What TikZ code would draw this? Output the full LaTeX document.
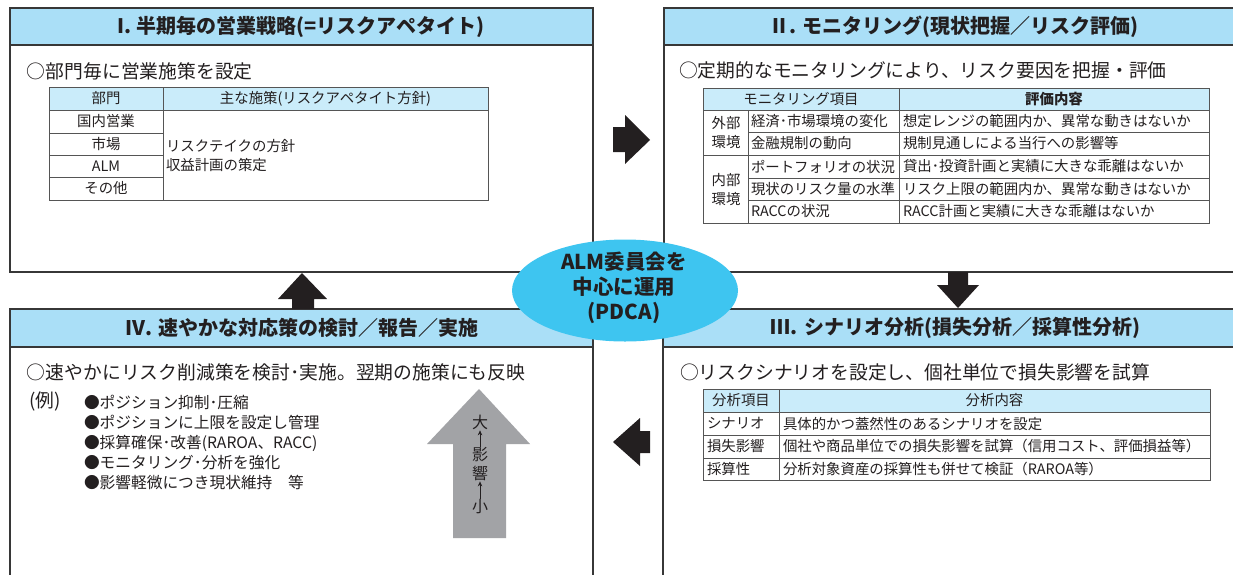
\documentclass[tikz,border=0pt]{standalone}
\usepackage{fontspec}
\setmainfont{Noto Sans CJK JP}
\usetikzlibrary{shapes.geometric,arrows.meta}
\definecolor{hdr}{RGB}{170,223,247}
\definecolor{thdr}{RGB}{202,236,250}
\definecolor{ell}{RGB}{62,197,240}
\definecolor{ink}{RGB}{35,31,32}
\definecolor{frame}{RGB}{55,55,55}
\definecolor{gridc}{RGB}{85,85,85}
\definecolor{garrow}{RGB}{162,163,166}
\begin{document}
\begin{tikzpicture}[x=1pt,y=-1pt,
  every node/.style={inner sep=0pt,outer sep=0pt,text=ink},
  panel/.style={draw=frame,line width=1.6pt},
  gridline/.style={draw=gridc,line width=0.8pt},
  ttl/.style={font=\fontsize{20}{24}\selectfont\bfseries},
  lead/.style={font=\fontsize{18.8}{22}\selectfont,anchor=west},
  cell/.style={font=\fontsize{14.4}{19}\selectfont},
  lcell/.style={cell,anchor=west},
  bul/.style={font=\fontsize{15.7}{20}\selectfont,anchor=west},
  blockarrow/.style={fill=ink},
  vtxt/.style={font=\fontsize{16}{18}\selectfont},
  smallup/.style={draw=ink,line width=0.8pt,-{Stealth[length=5pt,width=4.5pt]}}
]
\useasboundingbox (0,0) rectangle (1233,574);
\clip (0,0) rectangle (1233,574);

% ---------- Panel I ----------
\fill[white] (10,8) rectangle (593,272);
\fill[hdr] (10,8) rectangle (593,45);
\draw[panel] (10,8) rectangle (593,272);
\draw[panel] (10,45) -- (593,45);
\node[ttl] (t1) at (301,26.5) {I. 半期毎の営業戦略(=リスクアペタイト)};
\node[lead] (l1) at (27,71) {○部門毎に営業施策を設定};
% table I
\fill[thdr] (49,87) rectangle (488,110);
\draw[gridline] (49,87) rectangle (488,200);
\draw[gridline] (163,87) -- (163,200);
\draw[gridline] (49,110) -- (488,110);
\draw[gridline] (49,133) -- (163,133);
\draw[gridline] (49,155) -- (163,155);
\draw[gridline] (49,177) -- (163,177);
\node[cell] (h11) at (106,98.5) {部門};
\node[cell] (h12) at (325.5,98.5) {主な施策(リスクアペタイト方針)};
\node[cell] (r11) at (106,121.5) {国内営業};
\node[cell] (r12) at (106,144) {市場};
\node[cell] (r13) at (106,166) {ALM};
\node[cell] (r14) at (106,188.5) {その他};
\node[lcell,align=left] (r15) at (166,155.5) {リスクテイクの方針\\収益計画の策定};

% ---------- Panel II ----------
\fill[white] (664,8) rectangle (1245,272);
\fill[hdr] (664,8) rectangle (1245,45);
\draw[panel] (664,8) rectangle (1245,272);
\draw[panel] (664,45) -- (1245,45);
\node[ttl] (t2) at (954,26.5) {Ⅱ. モニタリング(現状把握／リスク評価)};
\node[lead] (l2) at (679,70) {○定期的なモニタリングにより、リスク要因を把握・評価};
% table II
\fill[thdr] (703,88) rectangle (1209,110);
\draw[gridline] (703,88) rectangle (1209,223);
\draw[gridline] (899,88) -- (899,223);
\draw[gridline] (748,110) -- (748,223);
\draw[gridline] (703,110) -- (1209,110);
\draw[gridline] (748,132) -- (1209,132);
\draw[gridline] (703,155) -- (1209,155);
\draw[gridline] (748,178) -- (1209,178);
\draw[gridline] (748,200) -- (1209,200);
\node[cell] (h21) at (801,99) {モニタリング項目};
\node[cell,font=\fontsize{14.4}{19}\selectfont\bfseries] (h22) at (1054,99) {評価内容};
\node[cell,align=center] (g1) at (726,133) {外部\\環境};
\node[cell,align=center] (g2) at (726,189.5) {内部\\環境};
\node[lcell] (a1) at (751,121) {経済･市場環境の変化};
\node[lcell] (a2) at (751,143.5) {金融規制の動向};
\node[lcell] (a3) at (751,166.5) {ポートフォリオの状況};
\node[lcell] (a4) at (751,189) {現状のリスク量の水準};
\node[lcell] (a5) at (751,211.5) {RACCの状況};
\node[lcell] (e1) at (903,121) {想定レンジの範囲内か、異常な動きはないか};
\node[lcell] (e2) at (903,143.5) {規制見通しによる当行への影響等};
\node[lcell] (e3) at (903,166.5) {貸出･投資計画と実績に大きな乖離はないか};
\node[lcell] (e4) at (903,189) {リスク上限の範囲内か、異常な動きはないか};
\node[lcell] (e5) at (903,211.5) {RACC計画と実績に大きな乖離はないか};

% ---------- Panel III ----------
\fill[white] (663,309) rectangle (1245,590);
\fill[hdr] (663,309) rectangle (1245,347);
\draw[panel] (663,309) rectangle (1245,590);
\draw[panel] (663,347) -- (1245,347);
\node[ttl] (t3) at (955.5,328) {Ⅲ. シナリオ分析(損失分析／採算性分析)};
\node[lead] (l3) at (680,372) {○リスクシナリオを設定し、個社単位で損失影響を試算};
% table III
\fill[thdr] (703,389) rectangle (1210,412);
\draw[gridline] (703,389) rectangle (1210,480);
\draw[gridline] (779,389) -- (779,480);
\draw[gridline] (703,412) -- (1210,412);
\draw[gridline] (703,435) -- (1210,435);
\draw[gridline] (703,458) -- (1210,458);
\node[cell] (h31) at (741,400.5) {分析項目};
\node[cell] (h32) at (994.5,400.5) {分析内容};
\node[lcell] (s1) at (707,423.5) {シナリオ};
\node[lcell] (s2) at (707,446.5) {損失影響};
\node[lcell] (s3) at (707,469) {採算性};
\node[lcell] (c1) at (783,423.5) {具体的かつ蓋然性のあるシナリオを設定};
\node[lcell] (c2) at (783,446.5) {個社や商品単位での損失影響を試算（信用コスト、評価損益等）};
\node[lcell] (c3) at (783,469) {分析対象資産の採算性も併せて検証（RAROA等）};

% ---------- Panel IV ----------
\fill[white] (10,309) rectangle (593,590);
\fill[hdr] (10,309) rectangle (593,347);
\draw[panel] (10,309) rectangle (593,590);
\draw[panel] (10,347) -- (593,347);
\node[ttl] (t4) at (302,328) {Ⅳ. 速やかな対応策の検討／報告／実施};
\node[lead] (l4) at (27,372) {○速やかにリスク削減策を検討･実施。翌期の施策にも反映};
\node[lead] (ex) at (29,401) {(例)};
\node[bul] (b1) at (84,402) {●ポジション抑制･圧縮};
\node[bul] (b2) at (84,422.5) {●ポジションに上限を設定し管理};
\node[bul] (b3) at (84,443) {●採算確保･改善(RAROA、RACC)};
\node[bul] (b4) at (84,463) {●モニタリング･分析を強化};
\node[bul] (b5) at (84,483) {●影響軽微につき現状維持　等};
% gray arrow
\fill[garrow] (479,389) -- (530,444) -- (506,444) -- (506,538) -- (453,538) -- (453,444) -- (427,444) -- cycle;
\node[vtxt] (v1) at (480,422) {大};
\node[vtxt] (v2) at (480,455) {影};
\node[vtxt] (v3) at (480,473) {響};
\node[vtxt] (v4) at (480,507) {小};
\draw[smallup] ([yshift=1pt]v2.north) -- ([yshift=-1pt]v1.south);
\draw[smallup] ([yshift=1pt]v4.north) -- ([yshift=-1pt]v3.south);

% ---------- block arrows ----------
\fill[blockarrow] (613,127) -- (625,127) -- (625,115) -- (650,140) -- (625,164) -- (625,152) -- (613,152) -- cycle;
\fill[blockarrow] (948,272) -- (968,272) -- (968,285) -- (979,285) -- (958,308) -- (937,285) -- (948,285) -- cycle;
\fill[blockarrow] (650,431) -- (640,431) -- (640,418) -- (613,442) -- (640,466) -- (640,453) -- (650,453) -- cycle;
\fill[blockarrow] (292,309) -- (292,299) -- (278,299) -- (302,273) -- (327,299) -- (314,299) -- (314,309) -- cycle;

% ---------- centre ellipse ----------
\node[ellipse,fill=ell,minimum width=226pt,minimum height=102pt] (alm) at (625,290.5) {};
\node[font=\fontsize{20.5}{25}\selectfont\bfseries,align=center] (almt) at (624,288) {ALM委員会を\\中心に運用\\(PDCA)};
\end{tikzpicture}
\end{document}
